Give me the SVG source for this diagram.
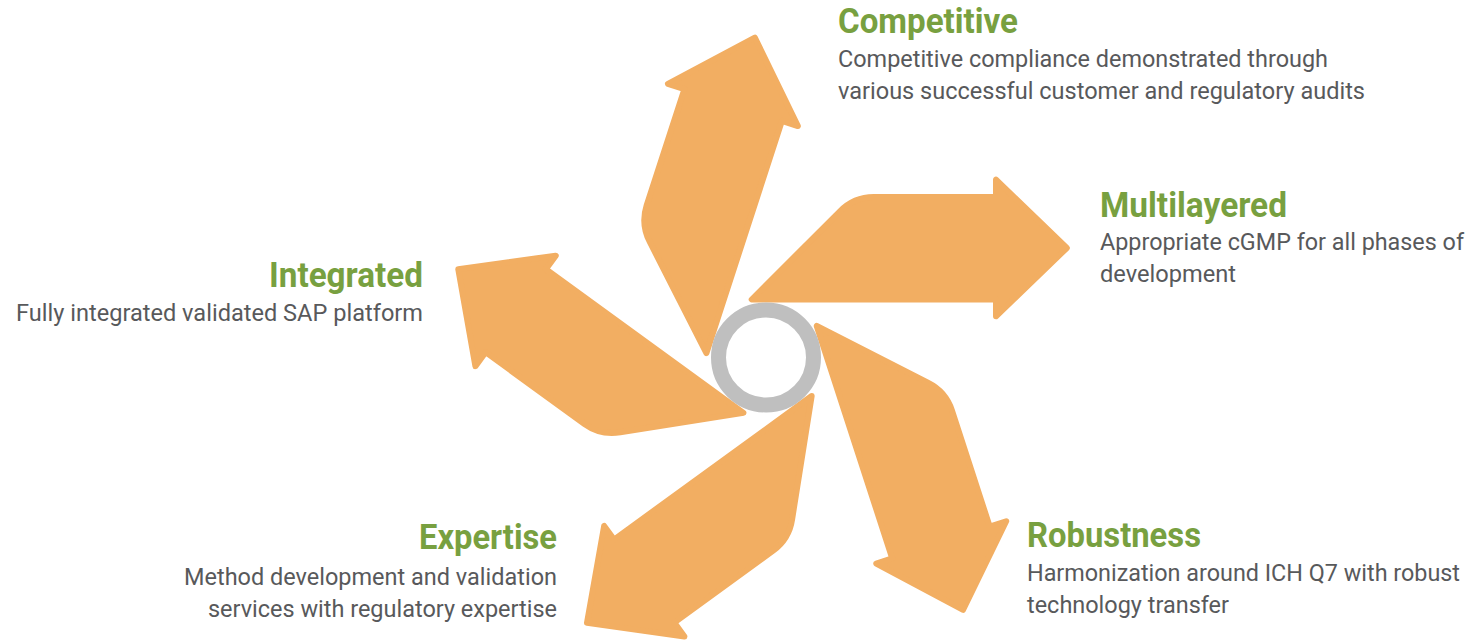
<svg xmlns="http://www.w3.org/2000/svg" width="1474" height="642" viewBox="0 0 1474 642">
<defs>
<style>
.arrow{fill:#F2AE62;stroke:#F2AE62;stroke-width:6;stroke-linejoin:round}
.ring{fill:#FFFFFF;stroke:#BFBFBF;stroke-width:15}
.title{font-family:Roboto,"Liberation Sans",sans-serif;font-weight:700;font-size:35px;fill:#78A040}
.desc{font-family:Roboto,"Liberation Sans",sans-serif;font-weight:400;font-size:24.5px;fill:#58595B}
.tight{font-size:23.5px}
.end{text-anchor:end}
</style>
<path id="arrowShape" d="M -14.3 -58 L 230 -58 L 230 -41.2 L 300.8 -109.5 L 230 -177.8 L 230 -160.5 L 107.7 -160.5 A 47.7 47.7 0 0 0 73.97 -146.23 Z"/>
</defs>
<rect width="1474" height="642" fill="#FFFFFF"/>
<g id="arrows">
<use href="#arrowShape" class="arrow" transform="translate(766 357.5) rotate(0)"/>
<use href="#arrowShape" class="arrow" transform="translate(766 357.5) rotate(72)"/>
<use href="#arrowShape" class="arrow" transform="translate(766 357.5) rotate(144)"/>
<use href="#arrowShape" class="arrow" transform="translate(766 357.5) rotate(216)"/>
<use href="#arrowShape" class="arrow" transform="translate(766 357.5) rotate(288)"/>
</g>
<g id="hub"><circle class="ring" cx="766" cy="357.5" r="47.5"/></g>
<g id="competitive">
<text class="title" x="838" y="33" textLength="180" lengthAdjust="spacingAndGlyphs">Competitive</text>
<text class="desc" x="838" y="67" textLength="490" lengthAdjust="spacingAndGlyphs">Competitive compliance demonstrated through</text>
<text class="desc" x="838" y="99" textLength="527" lengthAdjust="spacingAndGlyphs">various successful customer and regulatory audits</text>
</g>
<g id="multilayered">
<text class="title" x="1100" y="217" textLength="187" lengthAdjust="spacingAndGlyphs">Multilayered</text>
<text class="desc tight" x="1100" y="250" textLength="364" lengthAdjust="spacingAndGlyphs">Appropriate cGMP for all phases of</text>
<text class="desc" x="1100" y="282" textLength="136" lengthAdjust="spacingAndGlyphs">development</text>
</g>
<g id="integrated">
<text class="title end" x="423" y="287" textLength="154" lengthAdjust="spacingAndGlyphs">Integrated</text>
<text class="desc end" x="423" y="321" textLength="407" lengthAdjust="spacingAndGlyphs">Fully integrated validated SAP platform</text>
</g>
<g id="expertise">
<text class="title end" x="557" y="549" textLength="138" lengthAdjust="spacingAndGlyphs">Expertise</text>
<text class="desc end" x="557" y="585" textLength="373" lengthAdjust="spacingAndGlyphs">Method development and validation</text>
<text class="desc end" x="557" y="617" textLength="349" lengthAdjust="spacingAndGlyphs">services with regulatory expertise</text>
</g>
<g id="robustness">
<text class="title" x="1027" y="547" textLength="174" lengthAdjust="spacingAndGlyphs">Robustness</text>
<text class="desc tight" x="1027" y="581" textLength="433" lengthAdjust="spacingAndGlyphs">Harmonization around ICH Q7 with robust</text>
<text class="desc" x="1027" y="613" textLength="202" lengthAdjust="spacingAndGlyphs">technology transfer</text>
</g>
</svg>
